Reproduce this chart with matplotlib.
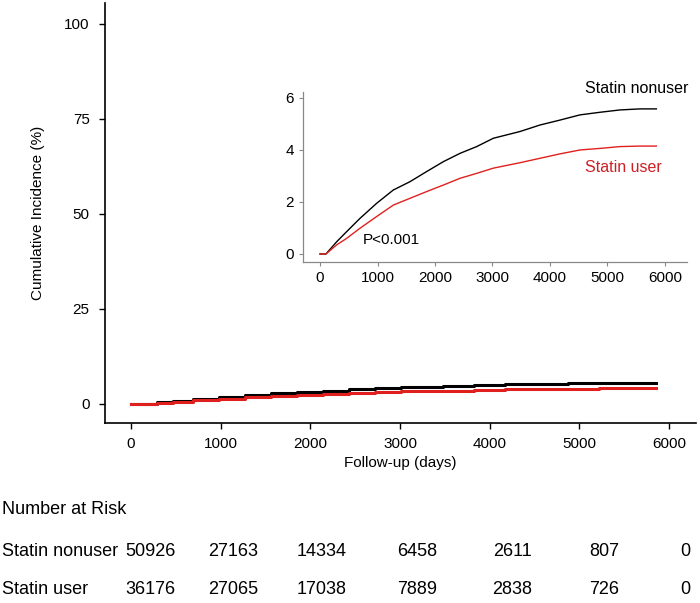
import matplotlib.pyplot as plt

plt.rcParams['font.family'] = ['Liberation Sans', 'DejaVu Sans']

# cumulative incidence (%)
days = [0, 104, 290, 464, 696, 986, 1275, 1565, 1855, 2145, 2435, 2725, 3014, 3478, 3826, 4174, 4522, 4870, 5217, 5565, 5850]
nonuser = [0, 0, 0.47, 0.86, 1.37, 1.95, 2.46, 2.78, 3.17, 3.55, 3.87, 4.13, 4.45, 4.71, 4.96, 5.15, 5.35, 5.45, 5.54, 5.58, 5.58]
user = [0, 0, 0.35, 0.60, 0.99, 1.44, 1.88, 2.14, 2.40, 2.65, 2.91, 3.10, 3.30, 3.51, 3.68, 3.85, 4.00, 4.06, 4.13, 4.15, 4.15]

groups = ['Statin nonuser', 'Statin user']
risk_nonuser = [50926, 27163, 14334, 6458, 2611, 807, 0]
risk_user = [36176, 27065, 17038, 7889, 2838, 726, 0]

black = 'black'
red = '#e0201e'
W, H = 700, 603

fig = plt.figure(figsize=(7, 6.03), dpi=100)

# main panel
ax = fig.add_axes([105 / W, 1 - 423 / H, 591 / W, 420 / H])
ax.plot(days, nonuser, color=black, lw=2.2, drawstyle='steps-post')
ax.plot(days, user, color=red, lw=2.2, drawstyle='steps-post')
ax.set_xlim(-290, 6300)
ax.set_ylim(-5, 105.5)
ax.set_xticks(range(0, 7000, 1000))
ax.set_yticks([0, 25, 50, 75, 100])
for s in ['top', 'right']:
    ax.spines[s].set_visible(False)
for s in ['left', 'bottom']:
    ax.spines[s].set_linewidth(1.2)
ax.tick_params(axis='both', labelsize=11, length=4, width=1, direction='out')
ax.tick_params(axis='y', pad=7)
ax.tick_params(axis='x', pad=6)
ax.set_xlabel('Follow-up (days)', fontsize=11, labelpad=4)
ax.set_ylabel('Cumulative Incidence (%)', fontsize=11, labelpad=14)

# inset
ins = fig.add_axes([303 / W, 1 - 262 / H, 384 / W, 170 / H])
ins.plot(days, nonuser, color=black, lw=1.0)
ins.plot(days, user, color=red, lw=1.0)
ins.set_xlim(-296, 6383)
ins.set_ylim(-0.31, 6.23)
ins.set_xticks(range(0, 7000, 1000))
ins.set_yticks([0, 2, 4, 6])
for s in ['top', 'right']:
    ins.spines[s].set_visible(False)
for s in ['left', 'bottom']:
    ins.spines[s].set_color('#888888')
    ins.spines[s].set_linewidth(0.9)
ins.tick_params(axis='both', labelsize=11, length=3, width=0.8, color='#888888')
ins.text(4609, 6.35, 'Statin nonuser', fontsize=11.5, color=black, va='center', clip_on=False)
ins.text(4609, 3.31, 'Statin user', fontsize=11.5, color='#cc2026', va='center')
ins.text(748, 0.54, 'P<0.001', fontsize=11, color=black, va='center')

# number at risk table
col_x = [150, 233, 322, 417, 512, 604, 685]
row_y = [551, 590]
fig.text(2 / W, 1 - 510 / H, 'Number at Risk', fontsize=13, va='center', ha='left')
for name, counts, y in zip(groups, [risk_nonuser, risk_user], row_y):
    fig.text(2 / W, 1 - y / H, name, fontsize=13, va='center', ha='left')
    for x, n in zip(col_x, counts):
        fig.text(x / W, 1 - y / H, str(n), fontsize=13, va='center', ha='center')

fig.savefig('out.png', dpi=100)
